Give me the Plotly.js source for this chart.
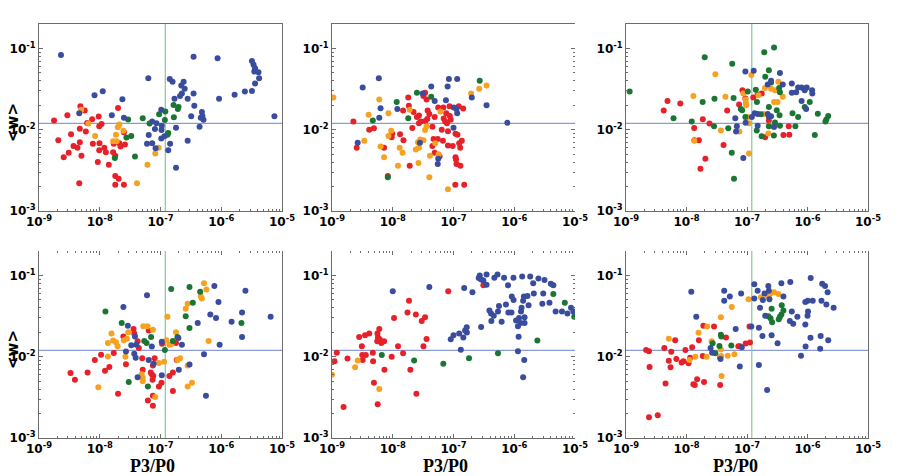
<!DOCTYPE html>
<html><head><meta charset="utf-8">
<script src="https://cdn.plot.ly/plotly-3.0.1.min.js"></script>
<style>html,body{margin:0;padding:0;background:#fff}#plot{width:900px;height:476px}</style>
</head><body><div id="plot"></div>
<script>
// ---- tick labels ----
const xTickVals = [1e-9, 1e-8, 1e-7, 1e-6, 1e-5];
const xTickText = ['10<sup>-9</sup>','10<sup>-8</sup>','10<sup>-7</sup>','10<sup>-6</sup>','10<sup>-5</sup>'];
const yTickVals = [1e-3, 1e-2, 1e-1];
const yTickText = ['10<sup>-3</sup>','10<sup>-2</sup>','10<sup>-1</sup>'];
const refW = 0.012;      // horizontal reference line
const refP = 1.2e-7;     // vertical reference line

// ---- panel 1 ----
const p1_blue_x = [2.3e-9,3.5e-7,8.7e-7,3.2e-6,3.4e-6,3.6e-6,3.5e-6,4.1e-6,4.2e-6,3.6e-6,3.2e-6,1.66e-6,2.45e-6,9.2e-7,7.5e-6,6.3e-8,1.42e-7,1.58e-7,2.4e-7,2.2e-7,2.5e-7,2.25e-7,2.1e-7,1.7e-7,2.8e-7,3.5e-7,3.6e-7,4.8e-7,4.9e-7,4.6e-7,5.1e-7,3.2e-7,4.4e-7,2.8e-7,1.03e-7,7.3e-8,8.6e-8,8.1e-8,1.05e-7,1.04e-7,1.16e-7,1.03e-7,6.4e-8,6.0e-8,7.3e-8,8.3e-8,1.34e-7,1.44e-7,1.8e-7,1.8e-7,1.58e-8,8.2e-9,1.12e-8,2.36e-8,2.5e-8,4.6e-9];
const p1_blue_y = [0.083,0.079,0.076,0.070,0.063,0.057,0.052,0.051,0.043,0.037,0.030,0.027,0.0295,0.024,0.0147,0.043,0.042,0.039,0.039,0.035,0.032,0.028,0.026,0.024,0.024,0.028,0.0197,0.0165,0.0148,0.014,0.0133,0.0147,0.0109,0.0073,0.0176,0.0126,0.012,0.0102,0.0112,0.0099,0.0083,0.0078,0.0086,0.0067,0.0068,0.0059,0.0056,0.0067,0.0106,0.0034,0.0151,0.0265,0.0298,0.0237,0.014,0.016];
const p1_green_x = [2.93e-8,5.1e-8,6.6e-8,2.75e-8,3.3e-8,3.8e-8,1.77e-8,9.5e-8,1.2e-7,1.18e-7,1.64e-7,1.93e-7,1.98e-7,1.66e-7,1.34e-7,1.3e-7];
const p1_green_y = [0.0134,0.0138,0.0119,0.008,0.0084,0.0047,0.0045,0.0155,0.0168,0.0132,0.0202,0.018,0.019,0.0142,0.0091,0.0087];
const p1_red_x = [1.77e-9,2.08e-9,2.93e-9,3.37e-9,3.08e-9,2.55e-9,3.7e-9,4.3e-9,4.8e-9,5.65e-9,4.7e-9,4.7e-9,5e-9,4.6e-9,5.9e-9,6.2e-9,7.5e-9,7.7e-9,9.6e-9,9.8e-9,1.07e-8,9.9e-9,9.8e-9,9.3e-9,1.19e-8,1.26e-8,1.41e-8,1.66e-8,1.8e-8,1.7e-8,2.0e-8,2.1e-8,2.2e-8,2.5e-8,2.6e-8,1.8e-8,2.05e-8,1.8e-8,2.5e-8];
const p1_red_y = [0.013,0.0074,0.0151,0.0088,0.0052,0.0046,0.0063,0.006,0.0195,0.0172,0.0103,0.007,0.0048,0.0022,0.0095,0.0121,0.0135,0.0067,0.0145,0.011,0.0118,0.0068,0.0056,0.004,0.006,0.0053,0.0037,0.0053,0.0048,0.0067,0.0185,0.0068,0.0062,0.0093,0.0066,0.0027,0.0025,0.0021,0.0021];
const p1_orange_x = [4.97e-9,6.5e-9,8.4e-9,1.98e-8,2.1e-8,1.85e-8,1.66e-8,1.9e-8,2.45e-8,4.1e-8,6.1e-8,9.3e-8,8.2e-8];
const p1_orange_y = [0.0176,0.0119,0.0084,0.0107,0.0116,0.0087,0.0072,0.0072,0.0097,0.0022,0.0037,0.006,0.0051];

// ---- panel 2 ----
const p2_blue_x = [5.9e-9,3.2e-9,6.3e-9,6.0e-9,2.65e-9,1.19e-8,3.1e-8,4.3e-8,4.9e-8,7.5e-8,8.0e-8,8.4e-8,1.15e-7,1.01e-7,1.12e-7,1.15e-7,1.0e-7,2.8e-8,5.5e-8,5.6e-8,2.0e-7,3.5e-7,7.7e-7];
const p2_blue_y = [0.043,0.033,0.0184,0.014,0.0069,0.018,0.028,0.034,0.0225,0.023,0.034,0.042,0.042,0.0188,0.018,0.016,0.0106,0.0069,0.0038,0.0044,0.025,0.02,0.0122];
const p2_green_x = [4.7e-9,1.16e-8,1.8e-8,2.5e-8,4.3e-8,8.3e-9,2.7e-7];
const p2_green_y = [0.013,0.022,0.0138,0.0285,0.0255,0.0026,0.04];
const p2_orange_x = [1.05e-9,4.0e-9,6.0e-9,6.3e-9,7.2e-9,3.4e-9,8.5e-9,9.4e-9,8.5e-9,1.22e-8,1.3e-8,1.45e-8,1.9e-8,2.4e-8,2.7e-8,2.6e-8,2.85e-8,3.4e-8,3.2e-8,2.65e-8,4.0e-8,4.1e-8,5.0e-8,5.7e-8,6.1e-8,8.1e-8,3.6e-8,1.95e-7,2.65e-7,3.5e-7];
const p2_orange_y = [0.025,0.0153,0.0235,0.0062,0.0046,0.0073,0.016,0.0097,0.0084,0.0036,0.006,0.0052,0.0176,0.0057,0.006,0.007,0.0076,0.0099,0.0074,0.0039,0.0026,0.0048,0.0068,0.005,0.0168,0.00185,0.011,0.028,0.032,0.035];
const p2_red_x = [2.25e-9,2.55e-9,4.1e-9,4.9e-9,7.2e-9,8.3e-9,9.8e-9,9.6e-9,1.32e-8,1.5e-8,1.48e-8,1.8e-8,1.84e-8,2.2e-8,2.1e-8,2.5e-8,2.7e-8,2.7e-8,2.9e-8,3.2e-8,3.4e-8,3.6e-8,3.75e-8,4.0e-8,3.7e-8,3.45e-8,4.5e-8,4.9e-8,4.7e-8,4.5e-8,4.9e-8,5.6e-8,5.5e-8,5.9e-8,1.9e-8,6.4e-8,6.8e-8,6.9e-8,7.3e-8,7.6e-8,7.8e-8,8.6e-8,8.7e-8,9.0e-8,8.1e-8,8.1e-8,6.7e-8,9.7e-8,1.08e-7,1.16e-7,1.22e-7,1.44e-7,1.08e-7,1.1e-7,1.12e-7,1.3e-7,1.29e-7,1.24e-7,1.37e-7,1.07e-7,1.5e-7];
const p2_red_y = [0.0126,0.006,0.01,0.0104,0.006,0.0027,0.0089,0.0081,0.0088,0.0074,0.0173,0.025,0.0197,0.0165,0.0105,0.0143,0.015,0.012,0.0126,0.026,0.0285,0.0235,0.0172,0.0156,0.0136,0.0128,0.0109,0.0143,0.0077,0.0063,0.0052,0.0188,0.0077,0.0047,0.0036,0.01,0.0188,0.0137,0.0126,0.016,0.012,0.0195,0.0148,0.0133,0.0096,0.0064,0.0073,0.0063,0.0089,0.0087,0.0195,0.0183,0.0046,0.0043,0.0038,0.0036,0.006,0.0068,0.0073,0.0021,0.0021];

// ---- panel 3 ----
const p3_green_x = [1.15e-9,6.1e-9,1.22e-8,1.85e-8,2.0e-8,2.9e-8,2.85e-8,4.9e-8,5.7e-8,6.0e-8,5.6e-8,6.1e-8,7.9e-8,8.3e-8,9.4e-8,1.03e-7,1.4e-7,1.46e-7,1.45e-7,1.7e-7,1.75e-7,1.93e-7,2.0e-7,2.3e-7,2.3e-7,2.3e-7,2.5e-7,2.8e-7,2.78e-7,2.9e-7,3.1e-7,3.4e-7,3.45e-7,3.5e-7,3.5e-7,5.65e-7,6.3e-7,7.0e-7,9.0e-7,1.09e-6,1.32e-6,1.48e-6,1.98e-6,2.05e-6,2.2e-6];
const p3_green_y = [0.0295,0.0138,0.0126,0.022,0.078,0.024,0.011,0.0104,0.065,0.0245,0.0052,0.0025,0.018,0.0174,0.0143,0.0295,0.031,0.022,0.0098,0.0155,0.0083,0.09,0.045,0.054,0.019,0.011,0.038,0.103,0.0085,0.0123,0.0174,0.0327,0.0151,0.029,0.0112,0.016,0.011,0.0143,0.019,0.022,0.0086,0.0157,0.0126,0.0134,0.0148];
const p3_blue_x = [9.4e-8,1.29e-7,6.4e-8,6.8e-8,6.6e-8,9.5e-8,8.7e-8,1.2e-7,1.34e-7,1.5e-7,1.5e-7,2.2e-7,2.5e-7,2.2e-7,2.3e-7,2.5e-7,2.8e-7,3.5e-7,3.9e-7,5.5e-7,5.5e-7,6.5e-7,7.0e-7,7.95e-7,8.8e-7,9.7e-7,9.0e-7,8.0e-7,9.5e-7,1.19e-6,1.2e-6];
const p3_blue_y = [0.052,0.053,0.0138,0.011,0.0095,0.0122,0.0045,0.0143,0.016,0.0112,0.0156,0.036,0.04,0.0156,0.0145,0.0147,0.0108,0.05,0.036,0.037,0.0285,0.029,0.033,0.033,0.032,0.033,0.0305,0.0225,0.018,0.0305,0.028];
const p3_orange_x = [1.3e-8,3.0e-8,1.35e-8,3.7e-8,4.4e-8,7.5e-8,8.7e-8,9.5e-8,9.6e-8,9.7e-8,1.03e-7,1.08e-7,1.18e-7,1.08e-7,1.55e-7,1.98e-7,1.88e-7,2.5e-7,2.9e-7,3.3e-7,2.8e-7,3.2e-7,3.9e-7,2.25e-7,2.4e-7,2.9e-7];
const p3_orange_y = [0.026,0.048,0.0073,0.0098,0.0255,0.0095,0.028,0.0235,0.0215,0.02,0.0143,0.012,0.047,0.0051,0.0265,0.0327,0.0156,0.032,0.0305,0.039,0.022,0.022,0.0255,0.009,0.0113,0.0115];
const p3_red_x = [4.2e-9,4.85e-9,7.9e-9,1.86e-8,1.34e-8,1.35e-8,1.6e-8,2.05e-8,1.7e-8,2.4e-8,4.1e-8,4.7e-8,7.4e-8,8.4e-8,9.4e-8,1.27e-7,1.5e-7,1.75e-7,2.0e-7,2.3e-7,4.0e-7,4.9e-7,5.0e-7];
const p3_red_y = [0.0173,0.0225,0.021,0.0135,0.0105,0.0074,0.0074,0.0044,0.0033,0.0119,0.0065,0.0173,0.0205,0.0305,0.0243,0.025,0.027,0.028,0.0081,0.013,0.0086,0.011,0.0087];

// ---- panel 4 ----
const p4_blue_x = [2.45e-8,6.0e-8,2.9e-8,3.8e-8,4.0e-8,3.3e-8,2.7e-8,3.7e-8,3.9e-8,4.2e-8,6.4e-8,7.2e-8,7.7e-8,1.05e-7,1.05e-7,1.97e-7,2.25e-7,2.0e-7,3.0e-7,4.1e-7,5.2e-7,5.6e-7,7.7e-7,9.0e-7,6.6e-7,8.2e-7,9.4e-7,1.48e-6,2.2e-6,2.2e-6,2.5e-6,6.5e-6];
const p4_blue_y = [0.041,0.057,0.024,0.0178,0.014,0.0138,0.0116,0.0109,0.0097,0.0056,0.0091,0.0134,0.0082,0.0153,0.0059,0.017,0.014,0.0069,0.008,0.026,0.0107,0.0033,0.074,0.047,0.033,0.03,0.014,0.027,0.035,0.0175,0.065,0.031];
const p4_green_x = [1.24e-8,2.3e-8,3.0e-8,5.4e-8,5.9e-8,7.0e-8,6.2e-8,1.18e-7,1.5e-7,1.6e-7,1.9e-7,2.6e-7,3.0e-7,3.0e-7,3.4e-7,4.5e-7,2.15e-6];
const p4_green_y = [0.036,0.026,0.0049,0.0156,0.0148,0.0175,0.0043,0.0121,0.068,0.0156,0.0175,0.0315,0.072,0.0225,0.046,0.063,0.026];
const p4_orange_x = [9.5e-9,1.36e-8,1.36e-8,1.56e-8,1.66e-8,1.85e-8,1.97e-8,2.5e-8,2.8e-8,2.95e-8,2.65e-8,5.2e-8,6.1e-8,7.5e-8,4.9e-8,5.1e-8,5.1e-8,8.2e-8,9.4e-8,1.15e-7,1.3e-7,1.25e-7,1.4e-7,1.5e-7,1.8e-7,1.9e-7,2.1e-7,2.6e-7,2.8e-7,2.8e-7,2.8e-7,3.3e-7,4.6e-7,4.8e-7,5.2e-7,5.7e-7,6.2e-7];
const p4_orange_y = [0.0042,0.0148,0.0101,0.0193,0.0158,0.0151,0.0135,0.016,0.0166,0.02,0.01,0.0237,0.0237,0.0215,0.0061,0.0055,0.005,0.0032,0.0084,0.0087,0.031,0.016,0.014,0.0142,0.02,0.0091,0.0096,0.039,0.045,0.0078,0.0043,0.0048,0.055,0.052,0.08,0.067,0.0156];
const p4_red_x = [3.3e-9,3.9e-9,6.3e-9,8.3e-9,1.05e-8,1.22e-8,1.44e-8,1.7e-8,2.0e-8,2.45e-8,2.7e-8,3.6e-8,3.7e-8,4.2e-8,4.4e-8,5.0e-8,5.1e-8,6.4e-8,6.2e-8,6.9e-8,7.2e-8,7.6e-8,7.5e-8,8.0e-8,7.4e-8,7.5e-8,7.5e-8,9.4e-8,1.04e-7,1.06e-7,1.4e-7,1.6e-7,1.6e-7,1.8e-7,1.85e-7];
const p4_red_y = [0.0063,0.0052,0.0064,0.0091,0.0106,0.0067,0.0075,0.0111,0.0035,0.0177,0.0081,0.022,0.0193,0.0155,0.0128,0.0096,0.0069,0.021,0.0029,0.0064,0.0061,0.0058,0.0078,0.0096,0.0052,0.0033,0.0025,0.0043,0.0048,0.0144,0.0058,0.0038,0.0064,0.0148,0.0091];

// ---- panel 5 ----
const p5_red_x = [1.1e-9,1.2e-9,1.8e-9,1.55e-9,2.8e-9,3.5e-9,4.1e-9,3.1e-9,3.2e-9,3.15e-9,3.6e-9,4.7e-9,4.75e-9,4.9e-9,5.65e-9,5.6e-9,6.0e-9,5.7e-9,6.1e-9,5.55e-9,6.5e-9,7.2e-9,7.3e-9,9.6e-9,1.05e-8,1.22e-8,1.48e-8,1.75e-8,1.85e-8,1.95e-8,2.4e-8,2.45e-8,3.0e-8,3.4e-8,3.2e-8,3.6e-8,8.2e-8,3.1e-7];
const p5_red_y = [0.0088,0.0112,0.0095,0.0024,0.0175,0.0184,0.0193,0.0135,0.0091,0.0105,0.0105,0.0112,0.0088,0.0048,0.0026,0.0193,0.022,0.0172,0.0164,0.0155,0.0148,0.0155,0.0069,0.01,0.03,0.0135,0.011,0.035,0.049,0.0069,0.033,0.0035,0.0275,0.0305,0.0135,0.0165,0.064,0.076];
const p5_orange_x = [1.0e-9,2.4e-9,2.65e-9,6.0e-9];
const p5_orange_y = [0.006,0.0074,0.009,0.004];
const p5_green_x = [6.6e-9,2.25e-8,6.8e-8,1.8e-7,5.4e-7,2.4e-6,4.4e-6,6.8e-6,9.7e-6];
const p5_green_y = [0.0105,0.009,0.0082,0.0096,0.011,0.0158,0.059,0.046,0.031];
const p5_blue_x = [1.0e-8,4.0e-8,9.0e-8,1.0e-7,1.24e-7,1.32e-7,1.45e-7,1.5e-7,1.55e-7,1.65e-7,1.66e-7,2.05e-7,2.85e-7,2.6e-7,2.7e-7,2.85e-7,3.1e-7,3.5e-7,3.5e-7,3.9e-7,4.15e-7,4.6e-7,4.2e-7,4.7e-7,5.3e-7,5.6e-7,5.4e-7,6.2e-7,6.8e-7,7.3e-7,7.9e-7,8.0e-7,9.0e-7,9.1e-7,9.7e-7,9.75e-7,1.07e-6,1.15e-6,1.2e-6,1.18e-6,1.15e-6,1.27e-6,1.29e-6,1.32e-6,1.35e-6,1.4e-6,1.44e-6,1.48e-6,1.48e-6,1.46e-6,1.4e-6,1.65e-6,1.72e-6,1.83e-6,2.05e-6,2.1e-6,2.5e-6,2.9e-6,3.0e-6,3.15e-6,3.8e-6,4.0e-6,4.4e-6,4.8e-6,6.1e-6,7.5e-6,8.6e-6,9.4e-6];
const p5_blue_y = [0.064,0.072,0.0164,0.0184,0.0193,0.0122,0.0172,0.07,0.021,0.023,0.0198,0.062,0.0233,0.093,0.1,0.089,0.087,0.103,0.077,0.037,0.034,0.032,0.0275,0.094,0.103,0.042,0.036,0.027,0.094,0.044,0.076,0.035,0.035,0.055,0.094,0.05,0.028,0.0237,0.03,0.0176,0.0117,0.026,0.036,0.04,0.097,0.049,0.055,0.0305,0.026,0.0091,0.0056,0.056,0.043,0.097,0.08,0.06,0.092,0.045,0.06,0.088,0.046,0.079,0.076,0.036,0.036,0.034,0.04,0.036];

// ---- panel 6 ----
const p6_red_x = [2.15e-9,2.4e-9,2.45e-9,2.4e-9,3.35e-9,4.3e-9,4.5e-9,5.1e-9,5.45e-9,5.6e-9,6.5e-9,6.8e-9,8.3e-9,8.9e-9,9.6e-9,1.08e-8,1.15e-8,1.24e-8,1.3e-8,1.37e-8,1.5e-8,1.6e-8,1.86e-8,1.9e-8,1.95e-8,2.85e-8,3.6e-8,3.6e-8,4.5e-8,7.2e-8,7.6e-8,9.5e-8,1.12e-7,1.1e-7];
const p6_red_y = [0.0121,0.0117,0.0075,0.0018,0.0019,0.0128,0.0047,0.0089,0.0074,0.0115,0.016,0.0094,0.0085,0.0088,0.0121,0.0083,0.0097,0.0131,0.0046,0.0045,0.0053,0.016,0.0102,0.024,0.0049,0.0235,0.0045,0.0098,0.0172,0.0135,0.0135,0.0145,0.015,0.0235];
const p6_orange_x = [5.1e-9,1.12e-8,1.4e-8,1.58e-8,2.2e-8,2.15e-8,2.6e-8,3.7e-8,3.7e-8,3.75e-8,3.8e-8,4.8e-8,5.6e-8,6.2e-8,1.06e-7,1.7e-7,2.2e-7,2.4e-7,2.8e-7,3.3e-7];
const p6_orange_y = [0.0166,0.0091,0.01,0.0197,0.0235,0.01,0.0155,0.0305,0.0123,0.0102,0.0058,0.0103,0.041,0.0107,0.051,0.054,0.056,0.059,0.062,0.059];
const p6_green_x = [2.7e-8,3.0e-8,3.5e-8,3.7e-8,3.75e-8,5.5e-8,2.25e-7,2.45e-7,2.55e-7,2.6e-7,3.35e-7,3.5e-7,3.7e-7,3.75e-7,4.0e-7];
const p6_green_y = [0.0147,0.011,0.0136,0.0187,0.0177,0.0137,0.0315,0.0298,0.039,0.0265,0.029,0.031,0.033,0.043,0.037];
const p6_blue_x = [1.2e-8,1.45e-8,2.5e-8,2.65e-8,3.65e-8,4.2e-8,4.2e-8,5.2e-8,6.5e-8,8.0e-8,7.6e-8,8.2e-8,1.18e-7,1.32e-7,1.32e-7,1.5e-7,1.57e-7,1.57e-7,1.64e-7,1.8e-7,1.83e-7,1.95e-7,2.0e-7,2.15e-7,2.25e-7,2.3e-7,2.35e-7,2.55e-7,3.2e-7,3.7e-7,4.0e-7,5.2e-7,5.1e-7,5.5e-7,5.8e-7,6.8e-7,7.8e-7,9.2e-7,9.3e-7,9.2e-7,1.01e-6,1.02e-6,1.0e-6,1.13e-6,1.12e-6,1.22e-6,1.62e-6,1.65e-6,1.7e-6,1.75e-6,1.95e-6,2.05e-6,2.15e-6,2.2e-6,2.7e-6];
const p6_blue_y = [0.063,0.031,0.0128,0.0112,0.0094,0.049,0.065,0.055,0.022,0.06,0.0076,0.0131,0.0235,0.078,0.052,0.065,0.0228,0.0079,0.04,0.018,0.05,0.06,0.032,0.0039,0.074,0.065,0.051,0.0184,0.0147,0.08,0.055,0.083,0.0275,0.036,0.0255,0.031,0.0103,0.025,0.0134,0.047,0.049,0.036,0.032,0.093,0.0171,0.049,0.0125,0.018,0.049,0.079,0.074,0.044,0.062,0.016,0.04];

const COLORS = {blue:'#3a4c9e', red:'#e62129', orange:'#f6a120', green:'#1b7633'};

const panels = [
  {vline:true,  s:{blue:[p1_blue_x,p1_blue_y], red:[p1_red_x,p1_red_y], orange:[p1_orange_x,p1_orange_y], green:[p1_green_x,p1_green_y]}},
  {vline:false, s:{blue:[p2_blue_x,p2_blue_y], red:[p2_red_x,p2_red_y], orange:[p2_orange_x,p2_orange_y], green:[p2_green_x,p2_green_y]}},
  {vline:true,  s:{blue:[p3_blue_x,p3_blue_y], red:[p3_red_x,p3_red_y], orange:[p3_orange_x,p3_orange_y], green:[p3_green_x,p3_green_y]}},
  {vline:true,  s:{blue:[p4_blue_x,p4_blue_y], red:[p4_red_x,p4_red_y], orange:[p4_orange_x,p4_orange_y], green:[p4_green_x,p4_green_y]}},
  {vline:false, s:{blue:[p5_blue_x,p5_blue_y], red:[p5_red_x,p5_red_y], orange:[p5_orange_x,p5_orange_y], green:[p5_green_x,p5_green_y]}},
  {vline:true,  s:{blue:[p6_blue_x,p6_blue_y], red:[p6_red_x,p6_red_y], orange:[p6_orange_x,p6_orange_y], green:[p6_green_x,p6_green_y]}}
];

const W = 900, H = 476;
const colPx = [[39,282],[332,575],[626,868]];
const rowPx = [[24,211],[251,438]];
const yTop = 0.2;

const traces = [];
const layout = {
  width: W, height: H, margin:{l:0,r:0,t:0,b:0},
  paper_bgcolor:'#fff', plot_bgcolor:'rgba(0,0,0,0)', showlegend:false,
  font:{family:'DejaVu Sans', color:'#000'},
  annotations:[], shapes:[]
};

const LC = '#6b6b6b';
function axisBase() {
  return {
    type:'log', showgrid:false, zeroline:false, showline:true, mirror:true,
    linecolor:LC, linewidth:1, ticks:'inside', ticklen:4, tickcolor:LC,
    tickmode:'array',
    tickfont:{family:'DejaVu Sans', size:12, color:'#000', weight:'bold'},
    minor:{ticks:'inside', ticklen:2, tickcolor:LC, dtick:'D1', showgrid:false}
  };
}
let extra = 7;
panels.forEach((p, i) => {
  const n = i + 1;
  const xa = n === 1 ? 'x' : 'x' + n;
  const ya = n === 1 ? 'y' : 'y' + n;
  const col = colPx[i % 3], rowIdx = Math.floor(i / 3), row = rowPx[rowIdx];
  const xDom = [col[0]/W, col[1]/W], yDom = [1 - row[1]/H, 1 - row[0]/H];
  const bottomRow = rowIdx === 1;
  const middle = (i % 3) === 1;
  layout['xaxis' + (n === 1 ? '' : n)] = Object.assign(axisBase(), {
    anchor: ya, domain:xDom, range:[-9, -5], mirror: bottomRow ? false : true,
    tickvals: xTickVals, ticktext: xTickText
  });
  layout['yaxis' + (n === 1 ? '' : n)] = Object.assign(axisBase(), {
    anchor: xa, domain:yDom, range:[-3, Math.log10(yTop)], mirror: middle ? false : true,
    tickvals: yTickVals, ticktext: yTickText
  });
  // tick-only top axis for the lower row
  if (bottomRow) {
    const id = extra++;
    layout['xaxis' + id] = Object.assign(axisBase(), {
      overlaying: xa, side:'top', anchor: ya, range:[-9,-5], showline:false, mirror:false,
      tickvals: xTickVals, ticktext: xTickText, showticklabels:false
    });
    traces.push({type:'scatter', mode:'markers', x:[], y:[], xaxis:'x'+id, yaxis:ya, hoverinfo:'skip'});
  }
  // tick-only right axis for middle column
  if (middle) {
    const id = extra++;
    layout['yaxis' + id] = Object.assign(axisBase(), {
      overlaying: ya, side:'right', anchor: xa, range:[-3, Math.log10(yTop)], showline:false, mirror:false,
      tickvals: yTickVals, ticktext: yTickText, showticklabels:false
    });
    traces.push({type:'scatter', mode:'markers', x:[], y:[], xaxis:xa, yaxis:'y'+id, hoverinfo:'skip'});
  }
  // reference lines
  traces.push({type:'scatter', mode:'lines', x:[xTickVals[0], xTickVals[4]], y:[refW, refW], xaxis:xa, yaxis:ya,
    line:{color:'#8a9bd6', width:1.2}, hoverinfo:'skip'});
  if (p.vline) traces.push({type:'scatter', mode:'lines', x:[refP, refP], y:[yTickVals[0], yTop], xaxis:xa, yaxis:ya,
    line:{color:'#86c99a', width:1.2}, hoverinfo:'skip'});
  ['red','orange','green','blue'].forEach(c => {
    traces.push({type:'scatter', mode:'markers', x:p.s[c][0], y:p.s[c][1], xaxis:xa, yaxis:ya,
      marker:{color:COLORS[c], size:6, line:{width:0}}, cliponaxis:true});
  });
});

// axis titles
[123, 350].forEach(cy => {
  layout.annotations.push({text:'<b>&lt;w&gt;</b>', xref:'paper', yref:'paper', x:13/W, y:1-cy/H, textangle:-90,
    showarrow:false, font:{family:'DejaVu Sans', size:15, color:'#000'}, xanchor:'center', yanchor:'middle'});
});
[152, 445, 735].forEach(cx => {
  layout.annotations.push({text:'<b>P3/P0</b>', xref:'paper', yref:'paper', x:cx/W, y:1-466/H,
    showarrow:false, font:{family:'Liberation Serif', size:18, color:'#000'}, xanchor:'center', yanchor:'middle'});
});

Plotly.newPlot('plot', traces, layout, {staticPlot:true, displayModeBar:false});
</script></body></html>
